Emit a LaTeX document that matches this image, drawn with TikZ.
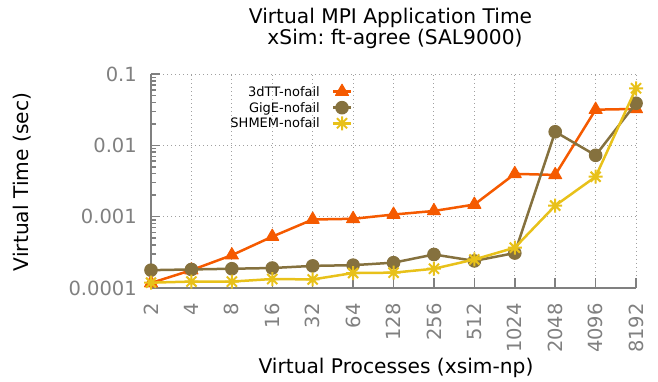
\documentclass[tikz,border=0pt]{standalone}
\usepackage{fontspec}
\setmainfont{DejaVu Sans}
\usetikzlibrary{plotmarks}
\frenchspacing

\definecolor{ttorange}{RGB}{245,90,0}
\definecolor{gigebrown}{RGB}{133,113,62}
\definecolor{shmemyellow}{RGB}{232,193,26}
\definecolor{axisgray}{RGB}{128,128,128}
\definecolor{gridgray}{RGB}{160,160,160}

% eight armed star, as gnuplot draws it
\pgfdeclareplotmark{starmark}{%
  \pgfpathmoveto{\pgfqpoint{-\pgfplotmarksize}{0pt}}%
  \pgfpathlineto{\pgfqpoint{\pgfplotmarksize}{0pt}}%
  \pgfpathmoveto{\pgfqpoint{0pt}{-\pgfplotmarksize}}%
  \pgfpathlineto{\pgfqpoint{0pt}{\pgfplotmarksize}}%
  \pgfpathmoveto{\pgfqpoint{-0.72\pgfplotmarksize}{-0.72\pgfplotmarksize}}%
  \pgfpathlineto{\pgfqpoint{0.72\pgfplotmarksize}{0.72\pgfplotmarksize}}%
  \pgfpathmoveto{\pgfqpoint{-0.72\pgfplotmarksize}{0.72\pgfplotmarksize}}%
  \pgfpathlineto{\pgfqpoint{0.72\pgfplotmarksize}{-0.72\pgfplotmarksize}}%
  \pgfusepathqstroke}

\tikzset{
  bigfont/.style={font=\fontsize{20.2}{23}\selectfont},
  tickfont/.style={font=\fontsize{19.5}{22}\selectfont},
  legfont/.style={font=\fontsize{13}{15}\selectfont},
  ticklabel/.style={tickfont, text=axisgray, inner sep=0pt},
  gridline/.style={draw=gridgray, line width=0.9pt, dash pattern=on 1pt off 3pt},
  axisline/.style={draw=axisgray, line width=2pt},
  tickline/.style={draw=axisgray, line width=1.5pt},
  ttline/.style={draw=ttorange, line width=2.5pt, line join=round,
    mark=triangle*, mark size=7.5pt, mark options={fill=ttorange, line width=1pt, solid}},
  gigeline/.style={draw=gigebrown, line width=2.5pt, line join=round,
    mark=*, mark size=6.3pt, mark options={fill=gigebrown, line width=1pt, solid}},
  shmemline/.style={draw=shmemyellow, line width=2.5pt, line join=round,
    mark=starmark, mark size=7pt, mark options={line width=2pt, solid}}
}

\begin{document}
\begin{tikzpicture}[x=1pt, y=1pt]
  \useasboundingbox (0,0) rectangle (658,382);

  % titles and axis labels
  \node[bigfont, anchor=base] (title) at (390.5,358.7) {Virtual MPI Application Time};
  \node[bigfont, anchor=base] (subtitle) at (395,337) {xSim: ft-agree (SAL9000)};
  \node[bigfont, rotate=90] (ylabel) at (22.5,200) {Virtual Time (sec)};
  \node[bigfont, anchor=base] (xlabel) at (396,8) {Virtual Processes (xsim-np)};

  \begin{scope}[shift={(151,94)}, x=40.42pt, y=71.33pt]
    % grid
    \foreach \i in {1,...,12}
      \draw[gridline] (\i,0) -- (\i,3);
    \foreach \d in {1,2,3}
      \draw[gridline] (0,\d) -- (12,\d);

    % ticks
    \foreach \i in {0,...,12}
      \draw[tickline] (\i,0) -- ++(0,10pt);
    \foreach \d in {0,...,3}
      \draw[tickline] (0,\d) -- ++(9pt,0);
    \foreach \d in {0,1,2}
      \foreach \k in {2,...,9}
        \draw[tickline] (0,{\d+log10(\k)}) -- ++(5pt,0);

    % axes
    \draw[axisline] (0,3) -- (0,0) -- (12,0);

    % tick labels
    \foreach \v [count=\i from 0] in {2,4,8,16,32,64,128,256,512,1024,2048,4096,8192}
      \node[ticklabel, rotate=90, anchor=east] (x\i) at ([yshift=-15pt]\i,0) {\v};
    \foreach \v [count=\d from 0] in {0.0001,0.001,0.01,0.1}
      \node[ticklabel, anchor=east] (y\d) at ([xshift=-14pt]0,\d) {\v};

    % data
    \draw[ttline] plot coordinates {(0,0.07) (1,0.25) (2,0.46) (3,0.72) (4,0.96)
      (5,0.97) (6,1.03) (7,1.08) (8,1.17) (9,1.60) (10,1.585) (11,2.50) (12,2.51)};
    \draw[gigeline] plot coordinates {(0,0.25) (1,0.26) (2,0.27) (3,0.28) (4,0.31)
      (5,0.32) (6,0.355) (7,0.47) (8,0.38) (9,0.49) (10,2.19) (11,1.86) (12,2.59)};
    \draw[shmemline] plot coordinates {(0,0.075) (1,0.09) (2,0.09) (3,0.126) (4,0.12)
      (5,0.21) (6,0.215) (7,0.27) (8,0.40) (9,0.565) (10,1.155) (11,1.56) (12,2.80)};
  \end{scope}

  % legend
  \node[legfont, anchor=base east, inner sep=0pt] (leg1) at (320,285.6) {3dTT-nofail};
  \node[legfont, anchor=base east, inner sep=0pt] (leg2) at (320,269.6) {GigE-nofail};
  \node[legfont, anchor=base east, inner sep=0pt] (leg3) at (320,254) {SHMEM-nofail};
  \draw[ttline] plot[mark indices={2}] coordinates {(333,290.3) (342,290.3) (351,290.3)};
  \draw[gigeline] plot[mark indices={2}] coordinates {(333,274.3) (342,274.3) (351,274.3)};
  \draw[shmemline] plot[mark indices={2}] coordinates {(333,258.7) (342,258.7) (351,258.7)};
\end{tikzpicture}
\end{document}
